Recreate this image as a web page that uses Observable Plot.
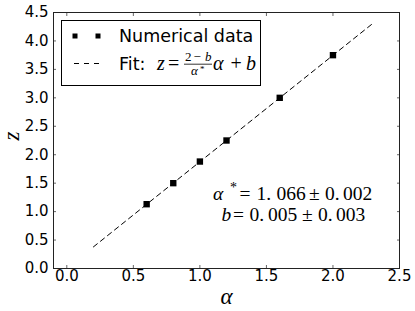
<!DOCTYPE html>
<html><head><meta charset="utf-8">
<script src="https://cdn.jsdelivr.net/npm/d3@7"></script>
<script src="https://cdn.jsdelivr.net/npm/@observablehq/plot@0.6"></script>
<style>body{margin:0;background:#fff} .ser{font-family:"Liberation Serif","DejaVu Serif",serif !important;}</style>
</head><body><div id="chart"></div>
<script>
// ---- data ----
const alphaValues = [0.6, 0.8, 1.0, 1.2, 1.6, 2.0];
const zValues = [1.13, 1.50, 1.88, 2.25, 3.00, 3.75];
const fitAlpha = [0.2, 2.29];
const fitZ = [0.38, 4.29];
const xTicks = [0, 0.5, 1.0, 1.5, 2.0, 2.5];
const yTicks = [0, 0.5, 1.0, 1.5, 2.0, 2.5, 3.0, 3.5, 4.0, 4.5];
const legendLabels = ["Numerical data", "Fit:"];
const xLabel = "α";
const yLabel = "z";

const points = alphaValues.map((a, i) => ({a, z: zValues[i]}));
const fit = fitAlpha.map((a, i) => ({a, z: fitZ[i]}));
const sans = "DejaVu Sans";
const fmt = d3.format(".1f");

const plot = Plot.plot({
  width: 415, height: 311,
  marginLeft: 53, marginRight: 16, marginTop: 12, marginBottom: 43,
  style: {fontFamily: sans, background: "#fff", color: "#000"},
  x: {domain: [-0.1, 2.5]},
  y: {domain: [0, 4.5]},
  marks: [
    Plot.line(fit, {x: "a", y: "z", stroke: "#000", strokeWidth: 1, strokeDasharray: "5,4"}),
    Plot.dot(points, {x: "a", y: "z", symbol: "square", r: 3.6, fill: "#000", stroke: null}),
    Plot.axisX(xTicks, {tickSize: 0, tickPadding: 2, tickFormat: fmt, fontSize: 15, label: null}),
    Plot.axisY(yTicks, {tickSize: 0, tickPadding: 5, tickFormat: fmt, fontSize: 15, label: null}),
    Plot.axisX(xTicks, {tickSize: -3, fill: null, label: null, stroke: "#666"}),
    Plot.axisX(xTicks, {anchor: "top", tickSize: -3, fill: null, label: null, stroke: "#666"}),
    Plot.axisY(yTicks, {tickSize: -3, fill: null, label: null, stroke: "#666"}),
    Plot.axisY(yTicks, {anchor: "right", tickSize: -3, fill: null, label: null, stroke: "#666"}),
    Plot.frame({stroke: "#222"}),
    Plot.text([xLabel], {frameAnchor: "bottom", dy: 35, fontSize: 23, fontStyle: "italic", className: "ser"}),
    Plot.text([yLabel], {frameAnchor: "left", dx: -42, rotate: -90, fontSize: 23, fontStyle: "italic", className: "ser"})
  ]
});
document.getElementById("chart").appendChild(plot);

const svg = d3.select(plot);
function seg(g, x, y, s, {size = 19.5, italic = false, serif = true, anchor = "start"} = {}) {
  const fam = serif ? "Liberation Serif" : "DejaVu Sans";
  return g.append("text").attr("x", x).attr("y", y)
    .attr("text-anchor", anchor).attr("fill", "#000").text(s)
    .attr("font-family", fam).attr("font-size", size).attr("font-style", italic ? "italic" : "normal")
    .style("font-family", `"${fam}"`).style("font-size", size + "px")
    .style("font-style", italic ? "italic" : "normal");
}

// legend
const lg = svg.append("g");
lg.append("rect").attr("x", 61.5).attr("y", 20.5).attr("width", 199).attr("height", 65)
  .attr("fill", "#fff").attr("stroke", "#000").attr("stroke-width", 1);
[75, 98].forEach(cx => lg.append("rect").attr("x", cx - 2.5).attr("y", 33.5).attr("width", 5).attr("height", 5).attr("fill", "#000"));
seg(lg, 119, 41.5, legendLabels[0], {size: 17.5, serif: false});
lg.append("line").attr("x1", 74).attr("x2", 99).attr("y1", 63.5).attr("y2", 63.5)
  .attr("stroke", "#000").attr("stroke-dasharray", "5,5");
seg(lg, 119, 69.5, legendLabels[1], {size: 17.5, serif: false});
seg(lg, 157, 69.5, "z", {italic: true, size: 20});
seg(lg, 168, 69.5, "=", {size: 20});
seg(lg, 185, 61, "2", {size: 13});
seg(lg, 193.5, 61, "−", {size: 13});
seg(lg, 205, 61, "b", {size: 13, italic: true});
lg.append("line").attr("x1", 184).attr("x2", 212).attr("y1", 64.2).attr("y2", 64.2).attr("stroke", "#000").attr("stroke-width", 0.8);
seg(lg, 191, 74.5, "α", {size: 13, italic: true});
seg(lg, 200, 72, "*", {size: 9});
seg(lg, 213, 69.5, "α", {size: 20, italic: true});
seg(lg, 230.5, 69.5, "+", {size: 20});
seg(lg, 246, 69.5, "b", {size: 20, italic: true});

// annotation
const an = svg.append("g");
seg(an, 213, 199.5, "α", {italic: true});
seg(an, 230, 192, "*", {size: 14});
seg(an, 239.5, 199.5, "=");
seg(an, 256.5, 199.5, "1.");
seg(an, 276.5, 199.5, "066");
seg(an, 309, 199.5, "±");
seg(an, 325, 199.5, "0.");
seg(an, 343, 199.5, "002");
seg(an, 221.5, 220.5, "b", {italic: true});
seg(an, 233, 220.5, "=");
seg(an, 249.5, 220.5, "0.");
seg(an, 268, 220.5, "005");
seg(an, 302, 220.5, "±");
seg(an, 318, 220.5, "0.");
seg(an, 336, 220.5, "003");
</script>
</body></html>
